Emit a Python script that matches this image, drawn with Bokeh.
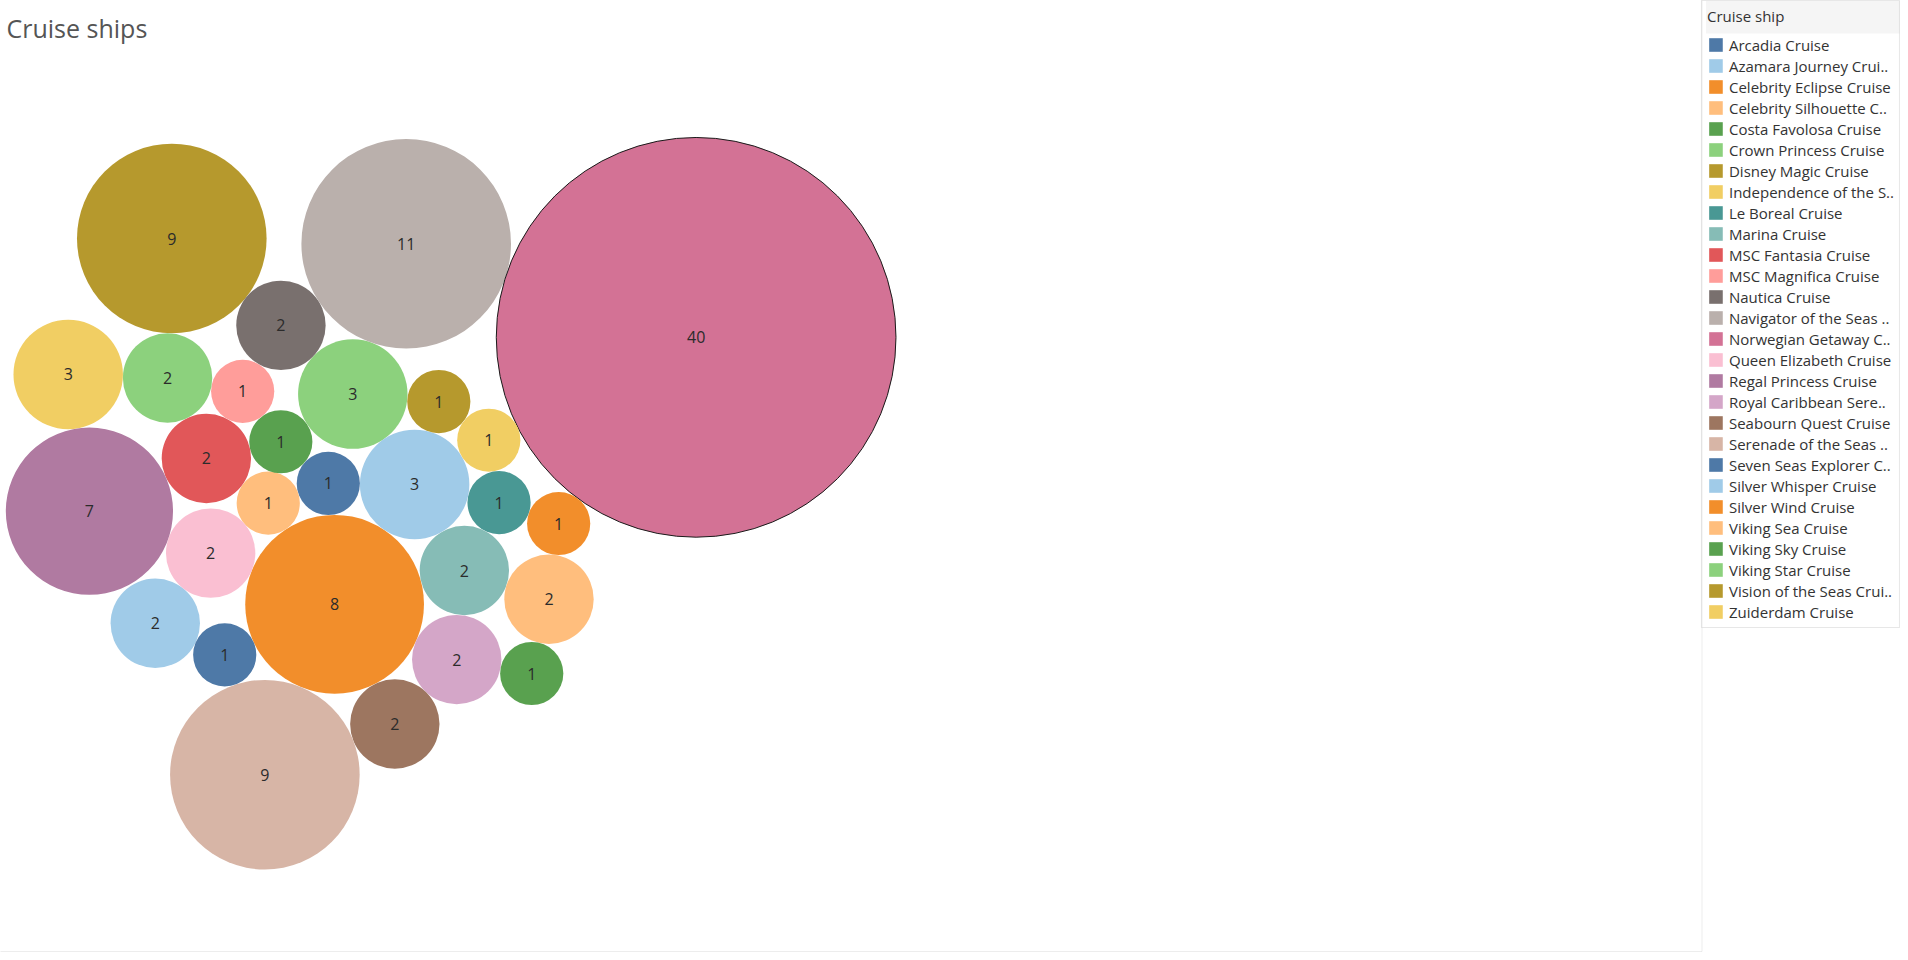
import math
from bokeh.plotting import figure
from bokeh.models import ColumnDataSource, Range1d, Legend, LegendItem, Label, BoxAnnotation
from bokeh.core.properties import value
from bokeh.embed import file_html
from bokeh.resources import INLINE

# ---------------- data ----------------
ships = [
    "Arcadia Cruise", "Azamara Journey Crui..", "Celebrity Eclipse Cruise",
    "Celebrity Silhouette C..", "Costa Favolosa Cruise", "Crown Princess Cruise",
    "Disney Magic Cruise", "Independence of the S..", "Le Boreal Cruise",
    "Marina Cruise", "MSC Fantasia Cruise", "MSC Magnifica Cruise",
    "Nautica Cruise", "Navigator of the Seas ..", "Norwegian Getaway C..",
    "Queen Elizabeth Cruise", "Regal Princess Cruise", "Royal Caribbean Sere..",
    "Seabourn Quest Cruise", "Serenade of the Seas ..", "Seven Seas Explorer C..",
    "Silver Whisper Cruise", "Silver Wind Cruise", "Viking Sea Cruise",
    "Viking Sky Cruise", "Viking Star Cruise", "Vision of the Seas Crui..",
    "Zuiderdam Cruise",
]
trips = [1, 2, 8, 1, 1, 3, 9, 3, 1, 2, 2, 1, 2, 11, 40, 2, 7, 2, 2, 9, 1, 3, 1, 2, 1, 2, 1, 1]
colors = [
    "#4E79A7", "#A0CBE8", "#F28E2B", "#FFBE7D", "#59A14F", "#8CD17D", "#B6992D",
    "#F1CE63", "#499894", "#86BCB6", "#E15759", "#FF9D9A", "#79706E", "#BAB0AC",
    "#D37295", "#FABFD2", "#B07AA1", "#D4A6C8", "#9D7660", "#D7B5A6", "#4E79A7",
    "#A0CBE8", "#F28E2B", "#FFBE7D", "#59A14F", "#8CD17D", "#B6992D", "#F1CE63",
]

# ---------------- packed-bubble layout (tangency chain) ----------------
R_UNIT = 31.6        # px radius of a bubble worth 1
GAP = 0.0            # px gap between touching bubbles
SEED = ("Crown Princess Cruise", "Silver Whisper Cruise", -55.6)
CHAIN = [  # (new bubble, touches A, touches B, side)
    ("Vision of the Seas Crui..", "Crown Princess Cruise", "Silver Whisper Cruise", 1),
    ("Zuiderdam Cruise", "Vision of the Seas Crui..", "Silver Whisper Cruise", 1),
    ("Le Boreal Cruise", "Zuiderdam Cruise", "Silver Whisper Cruise", 1),
    ("Marina Cruise", "Le Boreal Cruise", "Silver Whisper Cruise", 1),
    ("Celebrity Eclipse Cruise", "Marina Cruise", "Silver Whisper Cruise", 1),
    ("Arcadia Cruise", "Silver Whisper Cruise", "Celebrity Eclipse Cruise", -1),
    ("Costa Favolosa Cruise", "Crown Princess Cruise", "Arcadia Cruise", -1),
    ("Celebrity Silhouette C..", "Arcadia Cruise", "Celebrity Eclipse Cruise", -1),
    ("Royal Caribbean Sere..", "Marina Cruise", "Celebrity Eclipse Cruise", 1),
    ("Seabourn Quest Cruise", "Royal Caribbean Sere..", "Celebrity Eclipse Cruise", 1),
    ("Serenade of the Seas ..", "Seabourn Quest Cruise", "Celebrity Eclipse Cruise", 1),
    ("Seven Seas Explorer C..", "Serenade of the Seas ..", "Celebrity Eclipse Cruise", 1),
    ("Queen Elizabeth Cruise", "Celebrity Eclipse Cruise", "Celebrity Silhouette C..", 1),
    ("Azamara Journey Crui..", "Seven Seas Explorer C..", "Queen Elizabeth Cruise", 1),
    ("MSC Fantasia Cruise", "Celebrity Silhouette C..", "Costa Favolosa Cruise", 1),
    ("MSC Magnifica Cruise", "Costa Favolosa Cruise", "MSC Fantasia Cruise", -1),
    ("Regal Princess Cruise", "Queen Elizabeth Cruise", "MSC Fantasia Cruise", 1),
    ("Viking Star Cruise", "MSC Fantasia Cruise", "MSC Magnifica Cruise", 1),
    ("Independence of the S..", "Viking Star Cruise", "Regal Princess Cruise", -1),
    ("Nautica Cruise", "Crown Princess Cruise", "MSC Magnifica Cruise", -1),
    ("Disney Magic Cruise", "Nautica Cruise", "Viking Star Cruise", -1),
    ("Navigator of the Seas ..", "Crown Princess Cruise", "Nautica Cruise", -1),
    ("Norwegian Getaway C..", "Navigator of the Seas ..", "Zuiderdam Cruise", 1),
    ("Silver Wind Cruise", "Le Boreal Cruise", "Norwegian Getaway C..", -1),
    ("Viking Sea Cruise", "Silver Wind Cruise", "Marina Cruise", 1),
    ("Viking Sky Cruise", "Viking Sea Cruise", "Royal Caribbean Sere..", 1),
]
CLUSTER_CENTER = (450.4, 503.0)   # page px, centre of the bubble cluster

idx = {n: i for i, n in enumerate(ships)}
rad = [R_UNIT * math.sqrt(v) for v in trips]


def touch(c1, r1, c2, r2, r, side):
    a = r1 + r + GAP
    b = r2 + r + GAP
    dx, dy = c2[0] - c1[0], c2[1] - c1[1]
    d = math.hypot(dx, dy)
    t = (a * a - b * b + d * d) / (2 * d)
    h = math.sqrt(max(a * a - t * t, 0.0))
    ux, uy = dx / d, dy / d
    return (c1[0] + ux * t - side * uy * h, c1[1] + uy * t + side * ux * h)


pos = {}
s0, s1, ang = SEED
i0, i1 = idx[s0], idx[s1]
pos[i0] = (0.0, 0.0)
dd = rad[i0] + rad[i1] + GAP
pos[i1] = (dd * math.cos(math.radians(ang)), dd * math.sin(math.radians(ang)))
for new, a, b, side in CHAIN:
    n, ia, ib = idx[new], idx[a], idx[b]
    pos[n] = touch(pos[ia], rad[ia], pos[ib], rad[ib], rad[n], side)

xmin = min(pos[i][0] - rad[i] for i in pos)
xmax = max(pos[i][0] + rad[i] for i in pos)
ymin = min(pos[i][1] - rad[i] for i in pos)
ymax = max(pos[i][1] + rad[i] for i in pos)
bx, by = (xmin + xmax) / 2, (ymin + ymax) / 2
cx = [CLUSTER_CENTER[0] + (pos[i][0] - bx) for i in range(len(ships))]
cy = [CLUSTER_CENTER[1] - (pos[i][1] - by) for i in range(len(ships))]

src = ColumnDataSource(dict(
    x=cx, y=cy, r=rad, color=colors, ship=ships,
    label=[str(v) for v in trips],
    outline=[1.0 if v == max(trips) else 0.0 for v in trips],
))

# ---------------- figure (data space == page pixels) ----------------
W, H = 1900, 952
p = figure(width=W, height=H, x_range=Range1d(0, W), y_range=Range1d(H, 0),
           toolbar_location=None, output_backend="svg", title=None,
           x_axis_location=None, y_axis_location=None, min_border=0)
p.grid.visible = False
p.outline_line_color = None
p.background_fill_color = "white"
p.border_fill_color = "white"

p.circle(x="x", y="y", radius="r", source=src, fill_color="color", fill_alpha=1.0,
         line_color="#1a1a1a", line_alpha="outline", line_width=1)
p.text(x="x", y="y", text="label", source=src, text_align="center", text_baseline="middle",
       text_font=value("Open Sans"), text_font_size="16px", text_color="#2b2b2b")

# zero-size swatch renderer used only for the square legend swatches
swatch = p.rect(x="x", y="y", width=0, height=0, source=src,
                fill_color="color", line_color=None)

# view border (right + bottom)
p.add_layout(BoxAnnotation(left=-50, right=1701.5, top=-50, bottom=951,
                           fill_alpha=0, line_color="#c4c4c4", line_width=1))

# title
p.add_layout(Label(x=6, y=27, text="Cruise ships", text_font="Open Sans",
                   text_font_size="25px", text_color="#555555", text_baseline="alphabetic"))

# legend header band
p.add_layout(BoxAnnotation(left=1705.5, right=1899.5, top=0.5, bottom=33,
                           fill_color="#f5f5f5", fill_alpha=1, line_alpha=0))

items = [LegendItem(label=name, renderers=[swatch], index=i) for i, name in enumerate(ships)]

legend = Legend(items=items, location="top_right", margin=0, padding=5, spacing=0,
                glyph_width=17, glyph_height=17, label_height=21, label_width=163,
                label_standoff=5, title="Cruise ship", title_standoff=8,
                title_text_font="Open Sans", title_text_font_size="15px",
                title_text_font_style="normal", title_text_color="#333333",
                label_text_font="Open Sans", label_text_font_size="15px",
                label_text_color="#333333", border_line_color="#d0d0d0",
                border_line_width=1, background_fill_alpha=0)
p.add_layout(legend)

open("out.html", "w").write(file_html(p, INLINE))
